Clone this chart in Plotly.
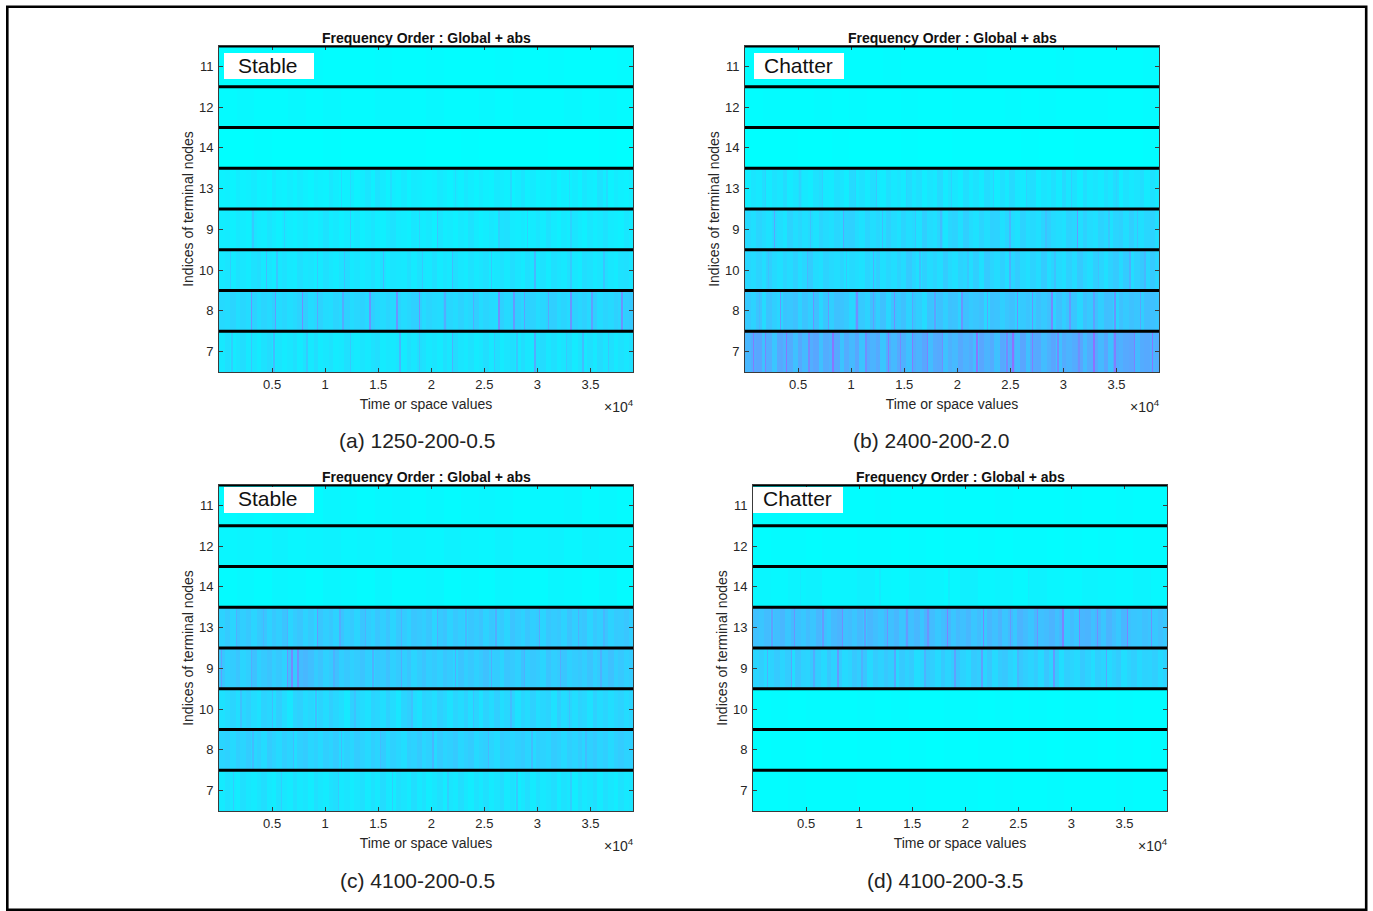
import numpy as np
import plotly.graph_objects as go

ROW_LABELS = ["7", "8", "10", "9", "13", "14", "12", "11"]  # bottom to top
X_TICKS = [5000, 10000, 15000, 20000, 25000, 30000, 35000]
X_LABELS = ["0.5", "1", "1.5", "2", "2.5", "3", "3.5"]
X_MIN, X_MAX = 1, 39000

# Colour level (percent along the cyan-to-magenta map), read as stripes left to right
a11 = [1,1,2,1,1,2,1,1,1,2,1,1,2,1,1,1,2,1,1,2,1,1,1,2]
a12 = [2,3,2,2,3,2,3,2,2,3,3,2,3,2,2,3,2,3,2,2,3,2,3,2]
a14 = [0,0,1,0,0,0,1,0,0,0,0,1,0,0,1,0,0,0,1,0,0,0,1,0]
a13 = [6,7,5,8,6,7,9,6,7,5,10,7,6,8,6,9,7,5,8,7,6,11,8,6,7,9,6,8,12,7,13,9,6,8,7,10,6,9,8,7,6,7,10,8,6,9,7,11,8,6,9,7,6,10,8,7,6,8,12,7,9,6,8,7,10,6,8,7,9,6,11,8,7,13,8,6,9,7,6,8]
a9 = [8,9,7,10,8,7,12,9,8,12,9,7,10,8,7,9,11,8,7,9,13,8,10,7,9,8,11,7,9,12,8,7,10,13,9,8,7,11,9,8,10,7,12,8,9,7,10,8,13,9,7,8,11,9,13,14,9,8,10,7,9,12,8,13,9,7,10,8,12,9,7,11,8,10,13,9,8,7,11,9]
a10 = [10,12,9,13,11,9,13,15,10,12,9,11,13,10,9,14,11,12,9,10,14,11,9,13,15,10,12,9,11,14,10,13,9,12,11,10,14,9,13,11,10,14,9,12,10,14,11,9,13,10,12,14,9,11,13,10,15,12,9,14,11,10,13,9,14,12,10,14,11,9,15,13,10,12,14,11,9,13,14,12]
a8 = [17,16,19,15,18,16,20,16,19,17,21,16,18,15,17,20,22,16,18,20,16,15,19,17,21,16,18,20,17,22,18,16,19,17,20,16,18,21,22,16,19,17,16,21,18,16,20,16,18,22,16,19,17,16,21,17,19,22,18,21,20,16,18,21,22,17,19,16,21,18,21,17,22,16,19,17,21,18,22,24]
a7 = [10,14,9,12,15,10,12,9,13,16,10,12,9,11,14,9,13,10,15,9,11,13,9,10,14,11,9,12,10,13,15,9,11,10,12,9,14,11,15,13,10,12,9,14,11,16,12,10,13,9,11,15,10,14,9,12,14,10,15,11,9,13,16,11,14,10,12,15,9,13,11,14,10,16,12,14,10,13,11,14]
a13_peaks = [[11.5,16],[12.3,17],[16.2,15],[22.3,16],[27.5,17],[33,16],[36.5,16]]
a9_peaks = [[3.2,24],[6.1,20],[12.3,24],[18.9,21],[20.5,26],[26.4,21],[29,20],[33.2,20]]
a10_peaks = [[1.0,22],[4.5,30],[5.4,26],[9.3,24],[11.8,28],[15.5,30],[19.2,24],[22,30],[25.7,24],[29.8,32],[33.1,24],[36.2,26]]
a8_peaks = [[3.1,44],[5.3,42],[7.9,46],[9.2,38],[11.7,36],[14.2,44],[16.7,44],[18.8,46],[21.2,36],[24,36],[26.3,46],[27.7,42],[28.8,40],[31,38],[33.1,44],[35.1,40],[37.9,44]]
a7_peaks = [[1.2,22],[3.1,26],[5.1,30],[8.3,24],[12.4,24],[17,32],[18.8,26],[22,34],[25.9,24],[28,26],[29.8,36],[32.7,24],[34.2,30],[36.6,26]]

b11 = [1,1,1,2,1,1,1,1,2,1,1,1,1,2,1,1,1,1,2,1,1,1,1,2]
b12 = [1,2,1,1,2,1,2,1,1,2,1,1,2,1,1,2,1,2,1,1,2,1,1,2]
b14 = [0,0,1,0,0,1,0,0,0,1,0,0,1,0,0,0,1,0,0,1,0,0,0,1]
b13 = [8,12,10,15,9,13,11,16,9,12,14,10,8,13,16,10,9,14,12,8,17,10,13,9,15,11,8,14,10,12,9,16,11,14,8,12,10,17,9,13,11,8,15,10,13,9,16,12,8,14,10,17,11,9,13,15,8,12,10,14,9,17,11,13,8,15,10,12,9,14,11,16,8,13,10,12,15,9,13,10]
b9 = [17,14,19,16,13,18,15,12,20,15,18,14,17,13,19,16,14,18,15,20,21,16,13,19,15,18,14,21,16,13,19,15,17,13,22,16,14,19,12,18,20,14,22,16,13,19,15,21,20,14,18,16,13,20,15,17,14,19,22,17,15,13,20,18,15,21,16,14,20,17,13,19,21,15,22,16,14,18,20,15]
b10 = [18,16,20,15,22,17,14,19,16,21,15,18,23,16,14,20,17,15,19,13,17,15,13,19,16,22,14,18,15,20,16,24,18,14,21,16,19,15,23,17,14,20,18,15,22,14,24,19,16,21,15,18,23,17,14,20,16,23,15,19,17,14,21,16,24,18,15,22,19,14,20,24,17,23,15,21,24,18,24,19]
b8 = [24,20,27,16,27,22,18,27,25,28,20,27,22,28,18,26,22,28,27,24,18,28,24,20,28,22,28,18,27,24,28,20,26,22,16,27,24,28,22,28,27,20,28,24,26,28,18,28,27,22,26,28,20,24,27,22,28,24,28,20,28,22,27,26,18,28,24,28,22,29,28,20,28,24,28,26,22,29,28,26]
b7 = [32,36,38,28,35,26,37,33,36,28,37,31,35,38,28,36,33,37,27,36,31,38,27,36,33,37,26,36,31,37,34,28,36,33,38,30,36,37,28,34,31,37,33,36,30,38,33,36,28,37,33,36,31,38,28,36,37,30,34,38,28,36,33,36,38,30,36,37,31,38,28,36,34,37,38,31,36,37,33,35]
b13_peaks = [[1.9,20],[5.2,20],[7.3,22],[10.4,20],[12.4,26],[15.2,20],[19.4,20],[23.4,20],[26.5,20],[30.8,22],[35,20]]
b9_peaks = [[2.7,38],[6.2,28],[9.2,36],[12.9,30],[16,26],[18.4,30],[25,32],[28.4,28],[31.3,42],[34.2,26],[37,28]]
b10_peaks = [[2.2,28],[5.8,32],[9.5,26],[12.1,34],[16.4,28],[21,26],[25,34],[29.2,28],[33.3,28],[36.3,34],[37.7,32]]
b8_peaks = [[1.3,32],[3.3,42],[6.4,44],[7.8,42],[10.5,46],[12.1,40],[14.1,46],[15.8,38],[17.9,40],[20.4,44],[22.8,38],[25.7,46],[27.1,44],[28.9,48],[30.6,42],[32.8,40],[34.8,44],[37.3,38]]
b7_peaks = [[0.8,52],[1.9,50],[3.9,54],[6,48],[8.2,54],[11.4,46],[13.5,52],[14.6,48],[15.8,52],[17.1,50],[18.6,46],[21.9,54],[24.7,48],[25.2,56],[27,52],[29.5,48],[31.4,46],[32.8,56],[34.9,52],[36.6,50],[38.3,54]]

c11 = [2,3,2,3,3,2,4,3,2,3,4,2,3,2,3,4,3,2,3,3,4,2,3,2]
c12 = [4,5,4,6,4,5,6,4,5,4,6,5,4,6,5,4,6,4,5,6,4,6,5,4]
c14 = [2,3,2,4,3,2,4,3,2,4,2,3,4,2,3,2,4,3,2,4,3,2,4,2]
c13 = [20,24,19,26,22,25,19,24,26,20,25,22,27,19,23,26,20,24,19,26,22,25,20,27,22,24,19,26,23,20,26,22,27,19,25,23,20,26,24,22,26,19,24,27,20,25,22,19,26,23,27,20,25,22,24,19,27,23,20,26,22,24,19,26,23,25,20,27,22,24,26,19,25,22,26,20,24,23,26,22]
c9 = [26,21,23,27,19,22,28,21,24,27,22,25,21,28,24,30,32,29,23,27,21,24,28,22,25,21,23,27,22,19,25,23,28,21,24,22,26,19,23,27,22,24,21,26,23,19,27,22,25,21,24,28,22,23,19,26,24,21,28,22,25,23,19,27,22,24,26,21,23,25,22,27,21,24,23,28,22,25,21,23]
c10 = [13,16,19,15,18,21,16,13,20,18,15,22,16,11,19,21,16,18,13,20,16,22,18,15,10,21,19,16,13,20,18,15,21,16,11,19,22,16,13,20,18,15,21,18,13,19,16,21,15,19,13,20,16,22,15,18,20,13,19,16,21,15,18,20,13,22,16,19,15,20,18,13,21,16,19,15,18,20,16,19]
c8 = [19,21,17,22,19,23,18,21,16,23,20,17,22,19,15,21,23,18,21,17,22,19,23,16,21,18,23,20,17,22,19,23,17,21,18,15,22,20,24,18,21,17,23,19,21,24,18,21,23,17,20,22,19,16,23,21,18,21,23,19,17,22,20,18,23,21,17,22,19,23,18,21,24,19,22,17,21,23,20,21]
c7 = [9,13,10,8,14,11,9,12,15,10,8,13,11,9,14,10,12,8,14,11,9,13,15,10,12,8,11,14,9,13,10,16,11,8,14,12,9,15,10,13,8,11,14,9,12,10,15,11,8,13,10,14,9,12,16,10,13,8,11,15,9,14,10,12,15,9,13,11,8,14,10,12,15,9,14,11,8,13,10,12]
c13_peaks = [[1.6,34],[4.2,32],[6.4,34],[9.2,42],[11.4,36],[13.8,34],[17.1,34],[20.6,36],[23.2,32],[26.1,36],[30.2,38],[33.8,34],[36.2,32]]
c9_peaks = [[0.2,40],[3,36],[6.5,44],[6.9,48],[7.4,46],[10.8,34],[14.5,34],[17.2,36],[22.3,36],[25.6,36],[28.7,34],[32.2,36],[36,34]]
c10_peaks = [[2,28],[5,30],[9.1,30],[12.8,28],[18.2,28],[24,28],[27.5,30],[33,28]]
c8_peaks = [[3.2,30],[7,30],[11.5,30],[15.2,30],[20.1,32],[25.3,32],[29.5,30],[34.6,30]]
c7_peaks = [[1.3,22],[5.8,22],[11.2,24],[16.3,22],[21.5,22],[28.1,24],[33.2,22]]

d11 = [1,2,1,1,2,1,1,2,1,1,1,2,1,1,2,1,1,1,2,1,1,2,1,1]
d12 = [1,2,2,1,2,1,2,2,1,2,1,2,1,2,1,2,2,1,2,1,2,1,2,2]
d14 = [4,3,5,6,3,5,7,4,3,6,5,3,7,4,5,3,6,4,3,5,4,3,5,3]
d13 = [28,26,30,25,29,32,26,31,28,25,30,26,32,28,25,31,33,28,30,26,31,25,32,29,26,31,28,32,26,30,28,32,26,33,30,25,29,32,26,31,28,32,26,30,25,32,28,33,26,31,25,33,30,26,32,28,30,33,28,32,25,30,26,32,33,28,32,26,33,29,25,32,28,26,25,28,26,25,28,25]
d9 = [19,22,17,20,24,19,23,15,26,20,19,24,22,17,25,20,23,17,19,25,22,26,17,23,20,25,22,17,24,20,23,15,19,25,22,17,24,19,23,26,20,17,24,22,19,25,17,23,25,20,17,25,22,19,23,17,26,20,24,15,22,19,17,24,20,15,22,19,17,20,23,15,19,22,17,20,19,22,17,20]
d10 = [1,2,1,2,2,1,2,1,2,1,1,2,2,1,2,1,2,1,2,2,1,2,1,1]
d8 = [0,1,1,0,1,0,1,1,0,1,0,1,0,1,1,0,1,0,1,1,0,1,0,1]
d7 = [1,1,2,1,1,2,1,1,1,2,1,1,2,1,2,1,1,2,1,1,1,2,1,1]
d13_peaks = [[1.7,40],[3.9,44],[6.6,42],[8.4,46],[10.5,40],[12.7,44],[14.5,42],[16.4,44],[18.3,50],[21.7,48],[24.3,42],[26.8,44],[29.2,50],[30.8,50],[32.5,46],[35.2,50],[37.5,44]]
d9_peaks = [[1.4,34],[3.6,38],[5.7,36],[8,42],[10.2,34],[13.4,38],[16.2,34],[19,40],[21.6,40],[25,32],[28.4,42],[33.3,38]]
d14_peaks = [[4.5,9],[12,9],[18.5,9],[26,8]]

panels = [
    dict(rows=[a7, a8, a10, a9, a13, a14, a12, a11],
         peaks=[a7_peaks, a8_peaks, a10_peaks, a9_peaks, a13_peaks, [], [], []],
         tag="Stable", caption="(a) 1250-200-0.5",
         left=219, top=46, tag_left=224, tag_top=53, cap_x=417, cap_y=440),
    dict(rows=[b7, b8, b10, b9, b13, b14, b12, b11],
         peaks=[b7_peaks, b8_peaks, b10_peaks, b9_peaks, b13_peaks, [], [], []],
         tag="Chatter", caption="(b) 2400-200-2.0",
         left=745, top=46, tag_left=754, tag_top=53, cap_x=931, cap_y=440),
    dict(rows=[c7, c8, c10, c9, c13, c14, c12, c11],
         peaks=[c7_peaks, c8_peaks, c10_peaks, c9_peaks, c13_peaks, [], [], []],
         tag="Stable", caption="(c) 4100-200-0.5",
         left=219, top=485, tag_left=224, tag_top=487, cap_x=417, cap_y=880),
    dict(rows=[d7, d8, d10, d9, d13, d14, d12, d11],
         peaks=[[], [], [], d9_peaks, d13_peaks, d14_peaks, [], []],
         tag="Chatter", caption="(d) 4100-200-3.5",
         left=753, top=485, tag_left=753, tag_top=487, cap_x=945, cap_y=880),
]

W, H = 1373, 911
PW, PH = 414, 326
CELLS = 276  # finest stripe is about 1.5 px wide
FONT = "Liberation Sans"
COOL = [[0, "#00ffff"], [0.3, "rgb(66,189,255)"], [0.6, "rgb(153,102,255)"], [1, "#ff00ff"]]
fig = go.Figure()
shapes, annotations = [], []
px = lambda v: v / W
py = lambda v: 1 - v / H


def text(label, x, y, size, color, **kw):
    annotations.append(dict(text=label, xref="paper", yref="paper", x=px(x), y=py(y), showarrow=False,
                            xanchor=kw.get("xanchor", "center"), yanchor="middle",
                            font=dict(family=FONT, size=size, color=color)))


edges = np.linspace(X_MIN, X_MAX, CELLS + 1)
for i, p in enumerate(panels, start=1):
    suffix = "" if i == 1 else str(i)
    for r, (vals, peaks) in enumerate(zip(p["rows"], p["peaks"]), start=1):
        cols = np.array(vals, dtype=float)[np.arange(CELLS) * len(vals) // CELLS]
        for t, level in peaks:
            cols[np.searchsorted(edges, t * 1000) - 1] = level
        fig.add_trace(go.Heatmap(
            x=edges, y=[r - 0.5, r + 0.5], z=[cols.tolist()], xaxis="x" + suffix, yaxis="y" + suffix,
            zmin=0, zmax=100, showscale=False, colorscale=COOL,
        ))
    common = dict(showgrid=False, zeroline=False, showline=True, linecolor="#3a3a3a", linewidth=1,
                  mirror="allticks", ticks="inside", ticklen=4, tickcolor="#3a3a3a",
                  tickfont=dict(family=FONT, size=13, color="#262626"))
    fig.update_layout({
        "xaxis" + suffix: dict(common, domain=[px(p["left"]), px(p["left"] + PW)], range=[X_MIN, X_MAX],
                               anchor="y" + suffix, tickmode="array", tickvals=X_TICKS, ticktext=X_LABELS,
                               title=dict(text="Time or space values", standoff=8,
                                          font=dict(family=FONT, size=14, color="#262626"))),
        "yaxis" + suffix: dict(common, domain=[py(p["top"] + PH), py(p["top"])], range=[0.5, 8.5],
                               anchor="x" + suffix, tickmode="array", tickvals=list(range(1, 9)),
                               ticktext=ROW_LABELS, ticklabelstandoff=2,
                               title=dict(text="Indices of terminal nodes", standoff=2,
                                          font=dict(family=FONT, size=14, color="#262626"))),
    })
    xref, yref = "x" + suffix, "y" + suffix
    for k in range(1, 9):
        shapes.append(dict(type="line", xref=xref, yref=yref, x0=X_MIN, x1=X_MAX, y0=k + 0.5, y1=k + 0.5,
                           line=dict(color="#000000", width=3)))
    shapes.append(dict(type="rect", xref="paper", yref="paper", x0=px(p["tag_left"]), x1=px(p["tag_left"] + 90),
                       y0=py(p["tag_top"] + 26), y1=py(p["tag_top"]), fillcolor="#ffffff", line=dict(width=0)))
    text(p["tag"], p["tag_left"] + 44, p["tag_top"] + 12, 21, "#111111")
    text("<b>Frequency Order : Global + abs</b>", p["left"] + 207, p["top"] - 8, 14, "#111111")
    text("×10<sup>4</sup>", p["left"] + PW + 2.5, p["top"] + PH + 34, 14, "#262626", xanchor="right")
    text(p["caption"], p["cap_x"], p["cap_y"], 21, "#222222")

shapes.append(dict(type="rect", xref="paper", yref="paper", x0=px(7.3), x1=px(1366.2), y0=py(909.8), y1=py(6.8),
                   line=dict(color="#000000", width=2.6), fillcolor="rgba(0,0,0,0)"))

fig.update_layout(width=W, height=H, margin=dict(l=0, r=0, t=0, b=0), paper_bgcolor="#ffffff",
                  plot_bgcolor="#ffffff", shapes=shapes, annotations=annotations,
                  font=dict(family=FONT), showlegend=False)
fig.write_html("out.html", config=dict(displayModeBar=False), post_script="document.body.style.margin='0';")
